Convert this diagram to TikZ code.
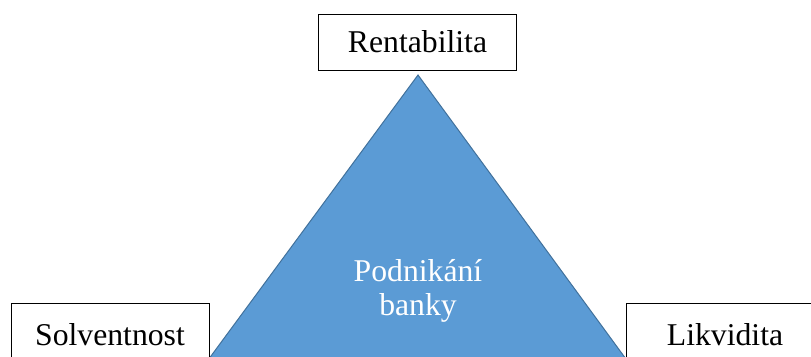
\documentclass[tikz,border=0pt]{standalone}
\usepackage{fontspec}
\setmainfont{Liberation Serif}
\definecolor{triFill}{HTML}{5B9BD5}
\definecolor{triEdge}{HTML}{41719C}
\begin{document}
\begin{tikzpicture}[x=1pt,y=-1pt,
  bigfont/.style={font=\fontsize{31.7}{33.4}\selectfont},
  labelbox/.style={draw=black,line width=0.9pt,fill=white,bigfont,inner sep=0pt,
    text height=21pt,text depth=0pt,minimum width=198pt,minimum height=56pt},
  tri/.style={fill=triFill,draw=triEdge,line width=1pt},
  inner/.style={text=white,bigfont,align=center,inner sep=0pt}]
\useasboundingbox (0,0) rectangle (811,356);
\clip (0,0) rectangle (811,356);
\coordinate (apex) at (418,75);
\coordinate (bl) at (178.6,400);
\coordinate (br) at (656,400);
\draw[tri] (apex) -- (bl) -- (br) -- cycle;
\node[labelbox] (rent) at (417.5,42) {Rentabilita};
\node[labelbox,minimum height=64pt] (solv) at (110,335) {Solventnost};
\node[labelbox,minimum height=64pt] (likv) at (725,335) {Likvidita};
\node[inner,anchor=base] (podn) at (418,315) {Podnikání\\banky};
\end{tikzpicture}
\end{document}
